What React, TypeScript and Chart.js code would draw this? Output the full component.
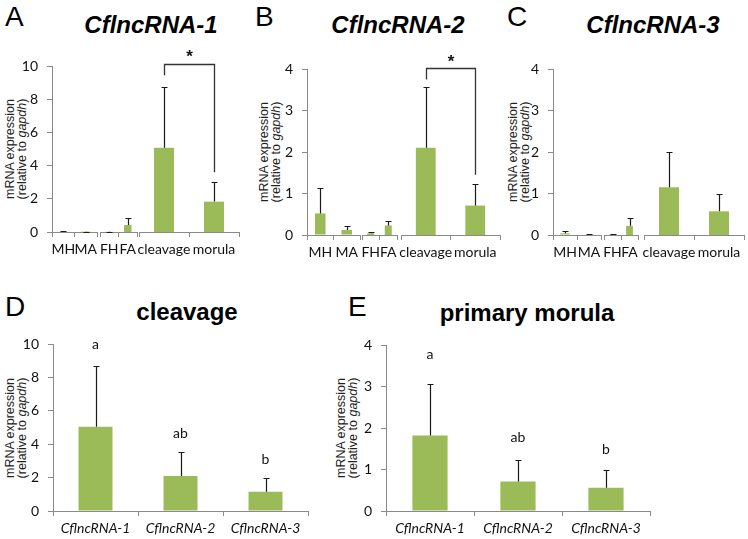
import React, { useEffect, useRef } from "react";
import { Chart, registerables } from "chart.js";

Chart.register(...registerables);

// ---------------- data ----------------
const maleStages = ["MH", "MA"];
const femaleStages = ["FH", "FA"];
const embryoStages = ["cleavage", "morula"];

// order: MH, MA, FH, FA, cleavage, morula
const lnc1Mean = [0.03, 0.01, 0.01, 0.42, 5.07, 1.83];
const lnc1Sd = [0.02, 0.005, 0.005, 0.4, 3.65, 1.2];
const lnc2Mean = [0.52, 0.12, 0.04, 0.23, 2.1, 0.71];
const lnc2Sd = [0.61, 0.1, 0.03, 0.11, 1.47, 0.52];
const lnc3Mean = [0.04, 0.01, 0.01, 0.22, 1.15, 0.57];
const lnc3Sd = [0.05, 0.005, 0.005, 0.18, 0.85, 0.41];

const geneLabels = ["CflncRNA-1", "CflncRNA-2", "CflncRNA-3"];
const cleavageMean = [5.05, 2.1, 1.15];
const cleavageSd = [3.65, 1.46, 0.85];
const cleavageLetters = ["a", "ab", "b"];
const cleavageLetterPos = [10.0, 4.65, 3.08];
const morulaMean = [1.82, 0.71, 0.56];
const morulaSd = [1.23, 0.52, 0.42];
const morulaLetters = ["a", "ab", "b"];
const morulaLetterPos = [3.76, 1.76, 1.48];

const yTicks10 = [0, 2, 4, 6, 8, 10];
const yTicks4 = [0, 1, 2, 3, 4];

// significance bracket (cleavage vs morula): top, left end, right end, star
const sigA = [10.1, 9.45, 3.6, 10.85];
const sigB = [4.02, 3.75, 1.45, 4.29];

// ---------------- style ----------------
const BAR = "#9BBB59";
const AXIS = "#8a8a8a";
const TXT = "#111";
const TICK_FONT = "Lato, 'Open Sans', sans-serif";
const SANS = "'Liberation Sans', Arial, Helvetica, sans-serif";
const PAD_T = 30;
const PAD_B = 4;
const PAD_R = 12;
const XH = 34;

type SubProps = {
  labels: string[];
  values: number[];
  errs: number[];
  x0: number;
  x1: number;
  top: number;
  bottom: number;
  ticks: number[];
  showY: boolean;
  italicX?: boolean;
  sig?: number[];
  letters?: string[];
  letterPos?: number[];
};

function SubChart(p: SubProps) {
  const ref = useRef<HTMLCanvasElement>(null);
  const yW = p.showY ? 50 : 0;
  const padL = p.showY ? 0 : 12;
  const left = p.x0 - padL - yW;
  const top = p.top - PAD_T;
  const width = p.x1 - p.x0 + padL + yW + PAD_R;
  const height = p.bottom - p.top + PAD_T + XH + PAD_B;

  useEffect(() => {
    const overlay = {
      id: "overlay",
      afterDatasetsDraw(chart: any) {
        const ctx = chart.ctx;
        const ys = chart.scales.y;
        const meta = chart.getDatasetMeta(0);
        const vals = p.values;
        ctx.save();
        ctx.strokeStyle = "#1a1a1a";
        ctx.lineWidth = 1.2;
        meta.data.forEach((bar: any, i: number) => {
          const x = Math.round(bar.x) + 0.5;
          const yb = ys.getPixelForValue(vals[i]);
          const yt = Math.round(ys.getPixelForValue(vals[i] + p.errs[i])) + 0.5;
          ctx.beginPath();
          ctx.moveTo(x, yb);
          ctx.lineTo(x, yt);
          ctx.moveTo(x - 3, yt);
          ctx.lineTo(x + 3, yt);
          ctx.stroke();
        });
        if (p.sig) {
          const [sTop, sL, sR, sStar] = p.sig;
          const xl = Math.round(meta.data[0].x) + 0.5;
          const xr = Math.round(meta.data[1].x) + 0.5;
          const yT = Math.round(ys.getPixelForValue(sTop)) + 0.5;
          ctx.strokeStyle = "#333";
          ctx.lineWidth = 1.3;
          ctx.beginPath();
          ctx.moveTo(xl, ys.getPixelForValue(sL));
          ctx.lineTo(xl, yT);
          ctx.lineTo(xr, yT);
          ctx.lineTo(xr, ys.getPixelForValue(sR));
          ctx.stroke();
          ctx.fillStyle = "#111";
          ctx.font = `bold 17px ${SANS}`;
          ctx.textAlign = "center";
          ctx.textBaseline = "alphabetic";
          ctx.fillText("*", (xl + xr) / 2, ys.getPixelForValue(sStar) + 10);
        }
        if (p.letters && p.letterPos) {
          ctx.fillStyle = TXT;
          ctx.font = `14px ${TICK_FONT}`;
          ctx.textAlign = "center";
          ctx.textBaseline = "middle";
          meta.data.forEach((bar: any, i: number) => {
            ctx.fillText(p.letters![i], bar.x, ys.getPixelForValue(p.letterPos![i]));
          });
        }
        ctx.restore();
      },
    };

    const chart = new Chart(ref.current as HTMLCanvasElement, {
      type: "bar",
      data: {
        labels: p.labels,
        datasets: [
          {
            data: p.values,
            backgroundColor: BAR,
            borderWidth: 0,
            barPercentage: 0.4,
            categoryPercentage: 1,
          },
        ],
      },
      options: {
        responsive: false,
        maintainAspectRatio: false,
        animation: false,
        events: [],
        layout: { padding: { left: padL, right: PAD_R, top: PAD_T, bottom: PAD_B } },
        plugins: {
          legend: { display: false },
          tooltip: { enabled: false },
          title: { display: false },
        },
        scales: {
          x: {
            type: "category",
            offset: true,
            grid: {
              offset: true,
              drawOnChartArea: false,
              drawTicks: true,
              tickLength: 5,
              color: AXIS,
              lineWidth: 1,
            },
            border: { display: true, color: AXIS, width: 1 },
            ticks: {
              padding: 4,
              color: TXT,
              autoSkip: false,
              maxRotation: 0,
              font: { family: TICK_FONT, size: 14, style: p.italicX ? "italic" : "normal" },
            },
            afterFit: (s: any) => {
              s.height = XH;
            },
          },
          y: {
            display: p.showY,
            min: 0,
            max: p.ticks[p.ticks.length - 1],
            afterBuildTicks: (s: any) => {
              s.ticks = p.ticks.map((v) => ({ value: v }));
            },
            grid: {
              drawOnChartArea: false,
              drawTicks: true,
              tickLength: 5,
              color: AXIS,
              lineWidth: 1,
            },
            border: { display: true, color: AXIS, width: 1 },
            ticks: {
              padding: 9,
              color: TXT,
              font: { family: TICK_FONT, size: 14 },
            },
            afterFit: (s: any) => {
              if (p.showY) s.width = yW;
            },
          },
        },
      } as any,
      plugins: [overlay],
    });
    return () => chart.destroy();
  }, []);

  return (
    <canvas
      ref={ref}
      width={width}
      height={height}
      style={{ position: "absolute", left, top, width, height }}
    />
  );
}

function Letter({ ch, x, base }: { ch: string; x: number; base: number }) {
  const size = 28;
  return (
    <div
      style={{
        position: "absolute",
        left: x,
        top: base - 0.8465 * size,
        font: `${size}px ${SANS}`,
        lineHeight: `${size}px`,
        color: "#000",
        whiteSpace: "nowrap",
      }}
    >
      {ch}
    </div>
  );
}

function Title({ text, cx, base, italic }: { text: string; cx: number; base: number; italic: boolean }) {
  const size = 24;
  return (
    <div
      style={{
        position: "absolute",
        left: cx - 150,
        width: 300,
        textAlign: "center",
        top: base - 0.8465 * size,
        font: `${italic ? "italic " : ""}bold ${size}px ${SANS}`,
        lineHeight: `${size}px`,
        color: "#000",
        whiteSpace: "nowrap",
      }}
    >
      {text}
    </div>
  );
}

function YLabel({ cx, cy }: { cx: number; cy: number }) {
  return (
    <div
      style={{
        position: "absolute",
        left: cx,
        top: cy,
        transform: "translate(-50%, -50%) rotate(-90deg)",
        font: `12.5px ${SANS}`,
        lineHeight: "12px",
        textAlign: "center",
        color: "#222",
        whiteSpace: "nowrap",
      }}
    >
      mRNA expression
      <br />
      (relative to <i>gapdh</i>)
    </div>
  );
}

function TopPanel(props: {
  mean: number[];
  sd: number[];
  top: number;
  bottom: number;
  ticks: number[];
  segs: number[][];
  sig?: number[];
}) {
  const groups = [maleStages, femaleStages, embryoStages];
  return (
    <>
      {groups.map((g, gi) => (
        <SubChart
          key={gi}
          labels={g}
          values={props.mean.slice(gi * 2, gi * 2 + 2)}
          errs={props.sd.slice(gi * 2, gi * 2 + 2)}
          x0={props.segs[gi][0]}
          x1={props.segs[gi][1]}
          top={props.top}
          bottom={props.bottom}
          ticks={props.ticks}
          showY={gi === 0}
          sig={gi === 2 ? props.sig : undefined}
        />
      ))}
    </>
  );
}

export default function App() {
  return (
    <div
      style={{
        position: "absolute",
        left: 0,
        top: 0,
        width: 748,
        height: 539,
        overflow: "hidden",
        background: "#fff",
      }}
    >
      <Letter ch="A" x={5} base={27} />
      <Letter ch="B" x={255} base={27} />
      <Letter ch="C" x={507} base={27} />
      <Letter ch="D" x={5} base={317} />
      <Letter ch="E" x={348} base={317} />

      <Title text={geneLabels[0]} cx={151} base={33} italic />
      <Title text={geneLabels[1]} cx={398} base={33} italic />
      <Title text={geneLabels[2]} cx={653} base={33} italic />
      <Title text="cleavage" cx={187} base={320} italic={false} />
      <Title text="primary morula" cx={527} base={321} italic={false} />

      <YLabel cx={16} cy={149} />
      <YLabel cx={269.5} cy={152} />
      <YLabel cx={518.5} cy={152} />
      <YLabel cx={15.5} cy={427.5} />
      <YLabel cx={346.5} cy={428} />

      <TopPanel
        mean={lnc1Mean}
        sd={lnc1Sd}
        top={66}
        bottom={232}
        ticks={yTicks10}
        segs={[[52, 97], [100, 137], [139, 239]]}
        sig={sigA}
      />
      <TopPanel
        mean={lnc2Mean}
        sd={lnc2Sd}
        top={69}
        bottom={235}
        ticks={yTicks4}
        segs={[[307, 360], [362, 397], [401, 500]]}
        sig={sigB}
      />
      <TopPanel
        mean={lnc3Mean}
        sd={lnc3Sd}
        top={69}
        bottom={235}
        ticks={yTicks4}
        segs={[[553, 601], [604, 638], [644, 744]]}
      />

      <SubChart
        labels={geneLabels}
        values={cleavageMean}
        errs={cleavageSd}
        x0={53}
        x1={308}
        top={344}
        bottom={511}
        ticks={yTicks10}
        showY
        italicX
        letters={cleavageLetters}
        letterPos={cleavageLetterPos}
      />
      <SubChart
        labels={geneLabels}
        values={morulaMean}
        errs={morulaSd}
        x0={386}
        x1={650}
        top={345}
        bottom={511}
        ticks={yTicks4}
        showY
        italicX
        letters={morulaLetters}
        letterPos={morulaLetterPos}
      />
    </div>
  );
}
